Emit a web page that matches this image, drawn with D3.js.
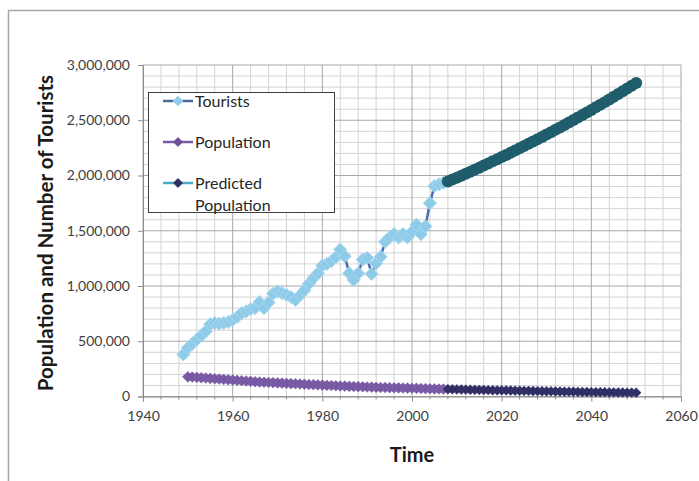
<!DOCTYPE html>
<html><head><meta charset="utf-8">
<script src="https://cdn.jsdelivr.net/npm/d3@7"></script>
<style>body{margin:0;background:#fff}svg{display:block;font-family:Lato,"Open Sans",sans-serif}</style>
</head><body><svg id="c" width="699" height="481"></svg>
<script>
const xTicks=[1940,1960,1980,2000,2020,2040,2060];
const yTicks=[0,500000,1000000,1500000,2000000,2500000,3000000];
const seriesNames=["Tourists","Population","Predicted\nPopulation"];
const touristYears=d3.range(1949,2008);
const touristValues=[380000,440000,478000,515000,550000,590000,655000,665000,660000,665000,675000,695000,720000,755000,770000,790000,800000,855000,800000,850000,930000,950000,935000,920000,900000,875000,915000,960000,1020000,1070000,1115000,1185000,1200000,1225000,1260000,1330000,1270000,1115000,1055000,1115000,1240000,1255000,1110000,1205000,1265000,1400000,1440000,1470000,1440000,1470000,1440000,1490000,1555000,1470000,1540000,1750000,1905000,1920000,1935000];
const popYears=d3.range(1950,2008);
const popValues=[178000,176000,173000,170000,167000,164000,161000,158000,155000,152000,149000,146000,143000,140000,137000,134000,131000,129000,127000,125000,123000,121000,119000,117000,115000,113000,111000,109000,107000,105000,103000,101000,99000,97000,95000,94000,92000,91000,89000,88000,86000,85000,83000,82000,81000,80000,79000,78000,77000,76000,75000,74000,72000,71000,70000,69000,68000,67000];
const predYears=d3.range(2008,2051);
const predPopValues=[66000,65000,64000,63000,62000,61000,60000,59500,59000,58000,57000,56000,55500,55000,54000,53000,52000,51500,51000,50000,49000,48000,47500,47000,46000,45000,44000,43500,43000,42000,41000,40500,40000,39000,38500,38000,37500,37000,36500,36000,35500,35000,34500];
const predTouristValues=[1945000,1963000,1980000,1998000,2016000,2034000,2053000,2071000,2090000,2109000,2128000,2147000,2167000,2186000,2206000,2226000,2246000,2266000,2287000,2307000,2328000,2349000,2370000,2392000,2413000,2435000,2457000,2479000,2502000,2524000,2547000,2570000,2593000,2617000,2640000,2664000,2688000,2713000,2737000,2762000,2787000,2812000,2838000];

const svg=d3.select("#c");
const x=d3.scaleLinear().domain([1940,2060]).range([143,681]);
const y=d3.scaleLinear().domain([0,3000000]).range([396.5,65]);

// outer frame
svg.append("rect").attr("x",8.5).attr("y",10.5).attr("width",720).attr("height",520)
  .attr("fill","#fff").attr("stroke","#a6a6a6").attr("stroke-width",1.5);

// gridlines
const g=svg.append("g");
d3.range(1944,2060,4).filter(v=>v%20!==0).forEach(v=>{
  g.append("line").attr("x1",x(v)).attr("x2",x(v)).attr("y1",y(0)).attr("y2",y(3000000)).attr("stroke","#d4d4d4");
});
d3.range(100000,3000000,100000).filter(v=>v%500000!==0).forEach(v=>{
  g.append("line").attr("x1",x(1940)).attr("x2",x(2060)).attr("y1",y(v)).attr("y2",y(v)).attr("stroke","#d4d4d4");
});
xTicks.forEach(v=>g.append("line").attr("x1",x(v)).attr("x2",x(v)).attr("y1",y(0)).attr("y2",y(3000000)).attr("stroke","#a8a8a8"));
yTicks.forEach(v=>g.append("line").attr("x1",x(1940)).attr("x2",x(2060)).attr("y1",y(v)).attr("y2",y(v)).attr("stroke","#a8a8a8"));

// axes
const ya=svg.append("g").attr("transform",`translate(${x(1940)},0)`)
  .call(d3.axisLeft(y).tickValues(yTicks).tickFormat(d3.format(",")).tickSize(5).tickPadding(8));
const xa=svg.append("g").attr("transform",`translate(0,${y(0)})`)
  .call(d3.axisBottom(x).tickValues(xTicks).tickFormat(d3.format("d")).tickSize(5).tickPadding(10));
[ya,xa].forEach(a=>{a.select(".domain").attr("stroke","#8c8c8c");a.selectAll("line").attr("stroke","#8c8c8c");
  a.selectAll("text").attr("fill","#404040").style("font-size","14px").style("font-family","Lato,sans-serif");});
svg.append("g").selectAll("line").data(d3.range(1944,2060,4).filter(v=>v%20!==0)).join("line")
  .attr("x1",d=>x(d)).attr("x2",d=>x(d)).attr("y1",y(0)).attr("y2",y(0)+3).attr("stroke","#8c8c8c");

const diamond=d3.symbol().type(d3.symbolDiamond2);
const line=d3.line().x(d=>x(d[0])).y(d=>y(d[1]));

// population
const pop=popYears.map((yr,i)=>[yr,popValues[i]]);
svg.append("path").attr("d",line(pop)).attr("fill","none").attr("stroke","#7a5ba6").attr("stroke-width",2.5);
svg.append("g").selectAll("path").data(pop).join("path").attr("d",diamond.size(72)())
  .attr("transform",d=>`translate(${x(d[0])},${y(d[1])})`).attr("fill","#7a5ba6").attr("stroke","#6e509a").attr("stroke-width",0.6);

// predicted population
const pp=predYears.map((yr,i)=>[yr,predPopValues[i]]);
svg.append("path").attr("d",line(pp)).attr("fill","none").attr("stroke","#4bacc6").attr("stroke-width",2.5);
svg.append("g").selectAll("path").data(pp).join("path").attr("d",diamond.size(62)())
  .attr("transform",d=>`translate(${x(d[0])},${y(d[1])})`).attr("fill","#2f2d63").attr("stroke","#3a3a70").attr("stroke-width",0.6);

// tourists
const tr=touristYears.map((yr,i)=>[yr,touristValues[i]]);
const pt=predYears.map((yr,i)=>[yr,predTouristValues[i]]);
svg.append("path").attr("d",line(tr.concat([pt[0]]))).attr("fill","none").attr("stroke","#4a6db0").attr("stroke-width",2.5);
svg.append("g").selectAll("path").data(tr).join("path").attr("d",diamond.size(110)())
  .attr("transform",d=>`translate(${x(d[0])},${y(d[1])})`).attr("fill","#8ecbe9").attr("stroke","#a9d8ef").attr("stroke-width",1);

// predicted tourists (thick teal)
svg.append("path").attr("d",line(pt)).attr("fill","none").attr("stroke","#1f5d6c").attr("stroke-width",3);
svg.append("g").selectAll("circle").data(pt).join("circle").attr("cx",d=>x(d[0])).attr("cy",d=>y(d[1])).attr("r",6)
  .attr("fill","#1f5d6c");

// legend
const lg=svg.append("g");
lg.append("rect").attr("x",148.5).attr("y",92.5).attr("width",186).attr("height",120).attr("fill","#fff").attr("stroke","#404040").attr("stroke-width",1);
const legendItems=[
  {name:seriesNames[0],y:101,lc:"#4a6d96",mf:"#8ecbe9",ms:"#a9d8ef",sz:60},
  {name:seriesNames[1],y:142,lc:"#7a5ba6",mf:"#6e509a",ms:"#6e509a",sz:50},
  {name:seriesNames[2],y:183,lc:"#4bacc6",mf:"#2f2d63",ms:"#2f2d63",sz:50}];
legendItems.forEach(it=>{
  lg.append("line").attr("x1",163).attr("x2",193).attr("y1",it.y).attr("y2",it.y).attr("stroke",it.lc).attr("stroke-width",2.5);
  lg.append("path").attr("d",diamond.size(it.sz)()).attr("transform",`translate(178,${it.y})`).attr("fill",it.mf).attr("stroke",it.ms);
  const t=lg.append("text").attr("x",195).attr("y",it.y+5.5).attr("fill","#262626").style("font-size","16px");
  it.name.split("\n").forEach((s,i)=>t.append("tspan").attr("x",195).attr("dy",i?22:0).text(s));
});

// titles
svg.append("text").attr("transform","translate(53,233) rotate(-90)").attr("text-anchor","middle")
  .style("font-size","20.5px").style("font-weight","bold").attr("fill","#1a1a1a").text("Population and Number of Tourists");
svg.append("text").attr("x",412).attr("y",462).attr("text-anchor","middle")
  .style("font-size","20px").style("font-weight","bold").attr("fill","#1a1a1a").text("Time");
</script></body></html>
